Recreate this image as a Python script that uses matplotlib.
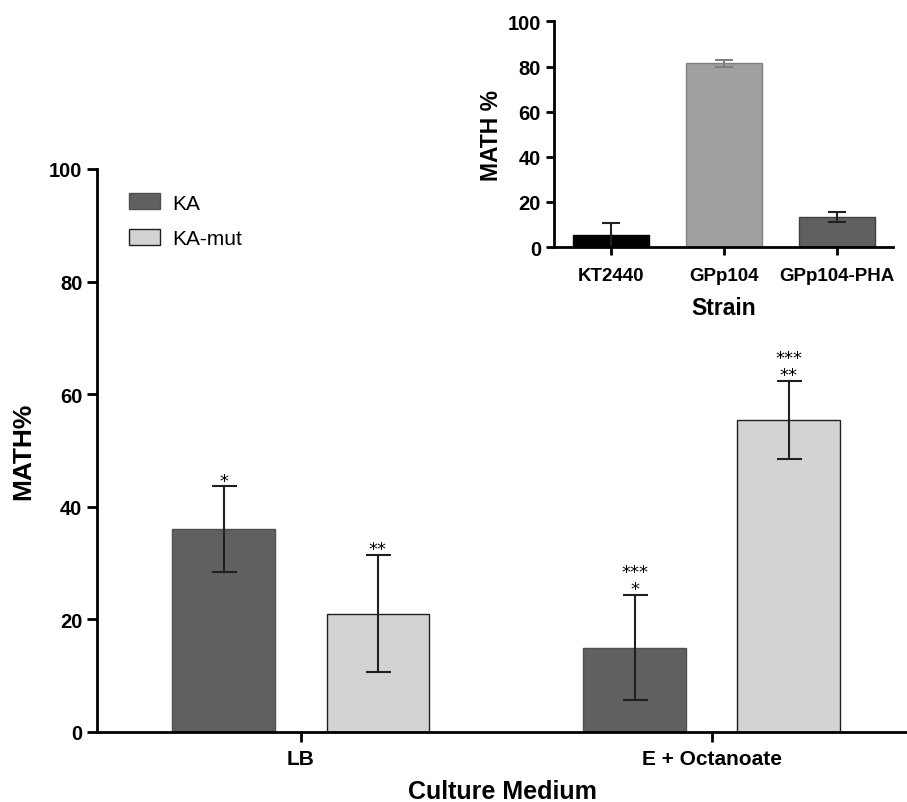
import matplotlib
matplotlib.use('Agg')
import matplotlib.pyplot as plt
import numpy as np

plt.rcParams['font.family'] = ['Liberation Sans', 'DejaVu Sans']

media = ['LB', 'E + Octanoate']
ka = [36.0, 15.0]
ka_err = [7.6, 9.4]
ka_mut = [21.0, 55.4]
ka_mut_err = [10.4, 6.9]
# significance marks above the error bars
ka_stars = ['*', '***\n*']
ka_mut_stars = ['**', '***\n**']

strains = ['KT2440', 'GPp104', 'GPp104-PHA']
strain_vals = [5.3, 81.4, 13.3]
strain_err = [5.5, 1.7, 2.2]
strain_colors = ['#000000', '#a0a0a0', '#606060']
strain_edges = ['#000000', '#808080', '#404040']
strain_err_colors = ['#202020', '#808080', '#202020']

fig = plt.figure(figsize=(9.07, 8.03), dpi=100)

# main chart
ax = fig.add_axes([0.107, 0.0872, 0.893, 0.7012])
x = np.arange(len(media))
w = 0.25
off = 0.1875
ax.bar(x - off, ka, w, color='#606060', edgecolor='#505050', linewidth=1, label='KA')
ax.bar(x + off, ka_mut, w, color='#d3d3d3', edgecolor='#202020', linewidth=1, label='KA-mut')
ax.errorbar(x - off, ka, yerr=ka_err, fmt='none', ecolor='#202020', elinewidth=1.5, capsize=9, capthick=1.5)
ax.errorbar(x + off, ka_mut, yerr=ka_mut_err, fmt='none', ecolor='#202020', elinewidth=1.5, capsize=9, capthick=1.5)


def stars(xpos, vals, errs, marks):
    for xi, v, e, s in zip(xpos, vals, errs, marks):
        ax.annotate(s, (xi, v + e), xytext=(0, 0.5), textcoords='offset points',
                    ha='center', va='baseline', fontsize=13, family='DejaVu Sans',
                    linespacing=0.95)


stars(x - off, ka, ka_err, ka_stars)
stars(x + off, ka_mut, ka_mut_err, ka_mut_stars)

ax.set_xlim(-0.496, 1.475)
ax.set_ylim(0, 100)
ax.set_yticks([0, 20, 40, 60, 80, 100])
ax.set_xticks(x)
ax.set_xticklabels(media, fontsize=15, fontweight='bold')
for lbl in ax.get_yticklabels():
    lbl.set_fontsize(14.5)
    lbl.set_fontweight('bold')
ax.spines['top'].set_visible(False)
ax.spines['right'].set_visible(False)
ax.spines['left'].set_linewidth(2)
ax.spines['bottom'].set_linewidth(2)
ax.tick_params(axis='both', width=2, length=7, direction='out')
ax.tick_params(axis='x', pad=5)
ax.set_xlabel('Culture Medium', fontsize=18, fontweight='bold', labelpad=8)
ax.set_ylabel('MATH%', fontsize=19, fontweight='bold', labelpad=10)
ax.legend(loc='upper left', bbox_to_anchor=(0.0395, 0.9565), frameon=False, fontsize=15,
          handlelength=1.5, handleheight=0.8, borderaxespad=0, borderpad=0,
          labelspacing=0.8, handletextpad=0.55)

# inset
ins = fig.add_axes([0.611, 0.691, 0.374, 0.281])
xs = np.arange(len(strains))
ins.bar(xs, strain_vals, 0.675, color=strain_colors, edgecolor=strain_edges, linewidth=1)
for xi, v, e, c in zip(xs, strain_vals, strain_err, strain_err_colors):
    ins.errorbar(xi, v, yerr=e, fmt='none', ecolor=c, elinewidth=1.5, capsize=6.5, capthick=1.5)
ins.set_xlim(-0.5, 2.5)
ins.set_ylim(0, 100)
ins.set_yticks([0, 20, 40, 60, 80, 100])
ins.set_xticks(xs)
ins.set_xticklabels(strains, fontsize=13.5, fontweight='bold')
for lbl in ins.get_yticklabels():
    lbl.set_fontsize(14.5)
    lbl.set_fontweight('bold')
ins.spines['top'].set_visible(False)
ins.spines['right'].set_visible(False)
ins.spines['left'].set_linewidth(2)
ins.spines['bottom'].set_linewidth(2)
ins.tick_params(axis='both', width=2, length=6, direction='out')
ins.tick_params(axis='x', pad=8)
ins.set_xlabel('Strain', fontsize=16.5, fontweight='bold', labelpad=9)
ins.set_ylabel('MATH %', fontsize=16.5, fontweight='bold', labelpad=3)

fig.savefig('out.png', dpi=100)
